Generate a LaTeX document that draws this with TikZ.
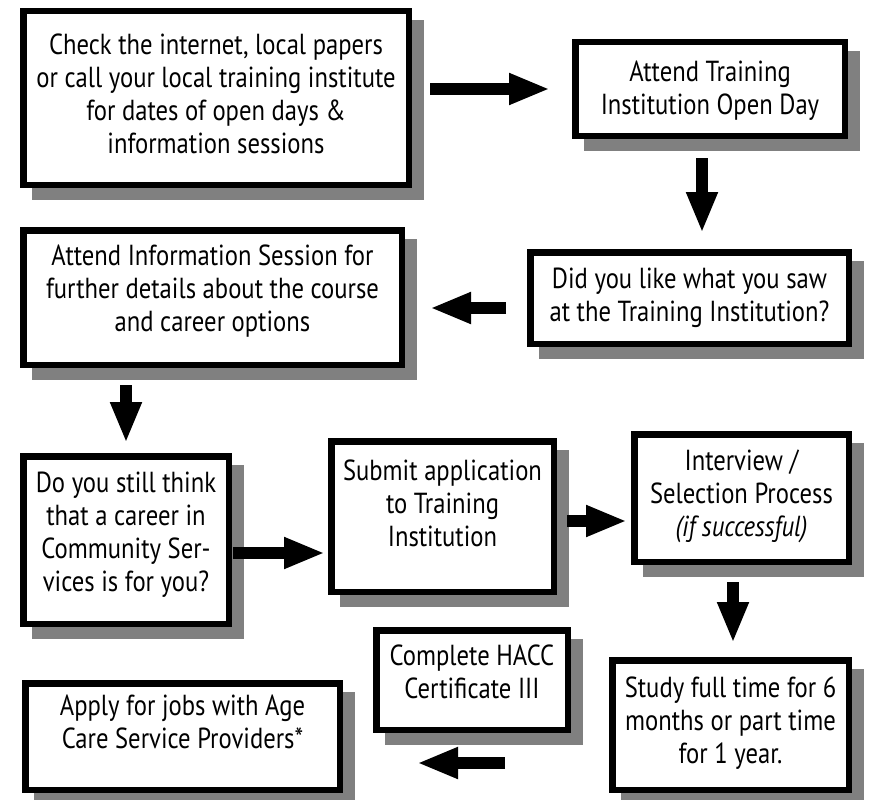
\documentclass[tikz,border=0pt]{standalone}
\usepackage{fontspec}
\setmainfont[FakeStretch=0.85]{PT Sans}
\usetikzlibrary{arrows.meta}
\definecolor{shgray}{HTML}{808080}
\tikzset{
  box/.style={draw=black, fill=white, line width=6.5pt, rectangle, inner sep=0pt,
    preaction={draw=shgray, fill=shgray, transform canvas={xshift=12pt, yshift=-12pt}}},
  txt/.style={align=center, font=\fontsize{29}{33}\selectfont, inner sep=0pt},
  arr/.style={line width=12pt, -{Triangle[length=41pt,width=29pt]}},
}
\begin{document}
\begin{tikzpicture}[x=1pt,y=-1pt]
\useasboundingbox (0,0) rectangle (870,800);

% boxes (centre, inner size)
\node[box, minimum width=385.5pt, minimum height=173.5pt] (b1) at (216,98) {};
\node[box, minimum width=269.5pt, minimum height=93.5pt]  (b2) at (710,89) {};
\node[box, minimum width=318.5pt, minimum height=91.5pt]  (b3) at (689.5,298) {};
\node[box, minimum width=378.5pt, minimum height=134.5pt] (b4) at (212.5,297.5) {};
\node[box, minimum width=205.5pt, minimum height=167.5pt] (b5) at (126,540) {};
\node[box, minimum width=222.5pt, minimum height=150.5pt] (b6) at (442.5,516.5) {};
\node[box, minimum width=214.5pt, minimum height=127.5pt] (b7) at (741.5,498) {};
\node[box, minimum width=236.5pt, minimum height=129.5pt] (b8) at (730.5,725) {};
\node[box, minimum width=191.5pt, minimum height=99.5pt]  (b9) at (472,680) {};
\node[box, minimum width=314.5pt, minimum height=106.5pt] (b10) at (182.5,736.5) {};

% texts
\node[txt] (t1) at ([yshift=4pt]b1.center) {Check the internet, local papers\\or call your local training institute\\for dates of open days \&\\information sessions};
\node[txt] (t2) at ([yshift=-2pt]b2.center) {Attend Training\\Institution Open Day};
\node[txt] (t3) at (b3.center) {Did you like what you saw\\at the Training Institution?};
\node[txt] (t4) at ([yshift=6.5pt]b4.center) {Attend Information Session for\\further details about the course\\and career options};
\node[txt] (t5) at ([yshift=5pt]b5.center) {Do you still think\\that a career in\\Community Ser-\\vices is for you?};
\node[txt] (t6) at ([yshift=13.5pt]b6.center) {Submit application\\to Training\\Institution};
\node[txt] (t7) at ([yshift=2pt]b7.center) {Interview /\\Selection Process\\\textit{(if successful)}};
\node[txt] (t8) at ([yshift=2pt]b8.center) {Study full time for 6\\months or part time\\for 1 year.};
\node[txt] (t9) at ([yshift=8pt]b9.center) {Complete HACC\\Certificate III};
\node[txt] (t10) at ([yshift=14.5pt]b10.center) {Apply for jobs with Age\\Care Service Providers*};

% arrows
\draw[arr, shorten <=18pt, shorten >=22pt] (b1.east |- b2.west) -- (b2.west);
\draw[arr, shorten <=19pt, shorten >=16pt] ([xshift=-8pt]b2.south) -- ([xshift=-8pt]b2.south |- b3.north);
\draw[arr, shorten <=21pt, shorten >=25pt] ([yshift=-10pt]b3.west) -- ([yshift=-10pt]b3.west -| b4.east);
\draw[arr, shorten <=17pt, shorten >=10pt] (b5.north |- b4.south) -- (b5.north);
\draw[arr, shorten <=1pt, shorten >=3pt] ([yshift=-13pt]b5.east) -- ([yshift=-13pt]b5.east -| b6.west);
\draw[arr, shorten <=10pt, shorten >=4pt] ([yshift=-23pt]b7.west -| b6.east) -- ([yshift=-23pt]b7.west);
\draw[arr, shorten <=17pt, shorten >=14pt] ([xshift=-8.5pt]b7.south) -- ([xshift=-8.5pt]b7.south |- b8.north);
\draw[arr, shorten <=104pt, shorten >=74pt] ([yshift=-38pt]b8.west) -- ([yshift=-38pt]b8.west -| b10.east);
\end{tikzpicture}
\end{document}
